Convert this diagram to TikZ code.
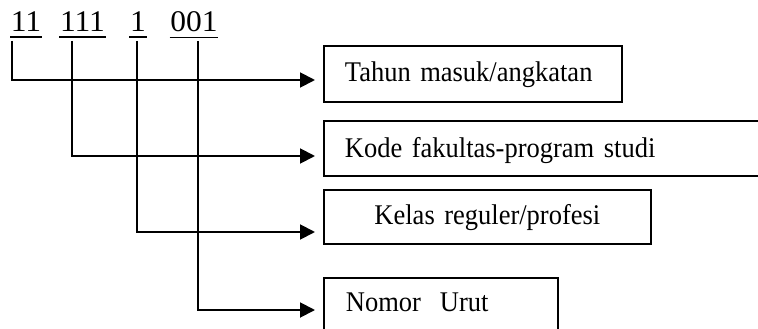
\documentclass[tikz,border=0pt]{standalone}
\usepackage{fontspec}
\setmainfont{Liberation Serif}
\newfontfamily\boxfont[FakeStretch=0.93]{Liberation Serif}
\newfontfamily\numfont[FakeStretch=1.05]{Liberation Serif}
\usetikzlibrary{arrows.meta}
\begin{document}
\begin{tikzpicture}[x=1pt,y=-1pt,
  box/.style={draw, line width=1.8pt, anchor=north west, inner ysep=0pt,
    font=\boxfont\fontsize{28.5}{32}\selectfont},
  num/.style={anchor=base, inner xsep=0.5pt, inner ysep=5pt,
    font=\numfont\fontsize{30}{34}\selectfont},
  uline/.style={line width=1.6pt},
  arr/.style={line width=1.9pt, -{Triangle[length=15pt,width=15pt]}, shorten >=8pt}]
\useasboundingbox (0,0) rectangle (758,329);
\clip (0,0) rectangle (758,329);
% numbers
\node[num] (n1) at (26,32) {11};
\node[num] (n2) at (82.5,32) {111};
\node[num] (n3) at (138,32) {1};
\node[num] (n4) at (194,32) {001};
\foreach \n in {n1,n2,n3,n4} \draw[uline] (\n.south west) -- (\n.south east);
% boxes
\node[box, inner xsep=21pt, text width=256pt, align=left, text height=36pt, text depth=20pt]
  (b1) at (323,45) {Tahun masuk/angkatan};
\node[box, inner xsep=21pt, text width=428pt, align=left, text height=37pt, text depth=18pt]
  (b2) at (323,120) {Kode fakultas-program studi};
\node[box, inner xsep=0pt, text width=327pt, align=center, text height=35pt, text depth=19pt]
  (b3) at (323,189) {Kelas reguler/profesi};
\node[box, inner xsep=22pt, text width=190pt, align=left, text height=34pt, text depth=30pt]
  (b4) at (323,277) {Nomor\ \ Urut};
% connector start points and levels
\coordinate (c1) at (12,41);  \coordinate (y1) at (0,80);
\coordinate (c2) at (72,41);  \coordinate (y2) at (0,156);
\coordinate (c3) at (137,41); \coordinate (y3) at (0,232);
\coordinate (c4) at (198,41); \coordinate (y4) at (0,310);
\draw[arr] (c1) |- (y1 -| b1.west);
\draw[arr] (c2) |- (y2 -| b2.west);
\draw[arr] (c3) |- (y3 -| b3.west);
\draw[arr] (c4) |- (y4 -| b4.west);
\end{tikzpicture}
\end{document}
